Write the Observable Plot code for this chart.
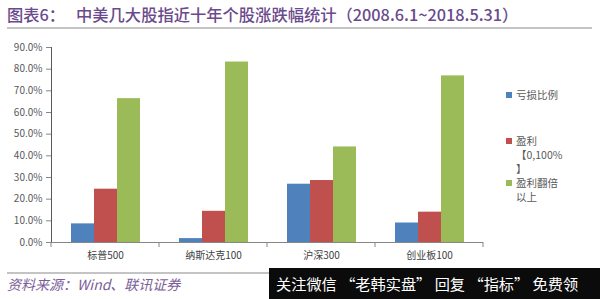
<!DOCTYPE html>
<html><head><meta charset="utf-8">
<script src="https://cdn.jsdelivr.net/npm/d3@7"></script>
<script src="https://cdn.jsdelivr.net/npm/@observablehq/plot@0.6"></script>
<style>
body{margin:0;background:#fff;}
#wrap{position:relative;width:600px;height:299px;overflow:hidden;font-family:"Noto Sans CJK SC","Noto Sans",sans-serif;background:#fff;}
#chart{position:absolute;left:0;top:0;}
.title{position:absolute;left:7px;top:4px;font-size:16.3px;line-height:20px;color:#6a4a8c;font-weight:500;white-space:nowrap;}
.title .t2{position:absolute;left:69px;top:0;}
.rule{position:absolute;left:7px;right:8px;height:2px;background:#c4c4c4;}
.source{position:absolute;left:7px;top:275px;font-size:14px;line-height:18px;color:#7b5e98;font-style:italic;white-space:nowrap;}
.legend{position:absolute;left:506px;font-size:10.5px;line-height:14px;color:#595959;}
.legend .sw{position:absolute;left:0;width:6px;height:6px;}
.legend .tx{position:absolute;left:10px;white-space:nowrap;}
.mark{position:absolute;left:269px;top:268px;width:331px;height:31px;background:#0b0b0b;color:#fff;font-size:15.2px;line-height:31px;white-space:nowrap;padding-left:7px;box-sizing:border-box;}
</style></head>
<body>
<div id="wrap">
  <div class="title"><span>图表6：</span><span class="t2">中美几大股指近十年个股涨跌幅统计（2008.6.1~2018.5.31）</span></div>
  <div class="rule" style="top:27px"></div>
  <div id="chart"></div>
  <div id="legend"></div>
  <div class="rule" style="top:272px"></div>
  <div class="source">资料来源：Wind、联讯证券</div>
  <div class="mark">关注微信 “老韩实盘” 回复 “指标” 免费领</div>
</div>
<script>
const categories = ["标普500", "纳斯达克100", "沪深300", "创业板100"];
const seriesNames = ["亏损比例", "盈利【0,100%】", "盈利翻倍以上"];
const legendLines = [["亏损比例"], ["盈利", "【0,100%", "】"], ["盈利翻倍", "以上"]];
const lossShare = [0.086, 0.018, 0.269, 0.090];
const gainShare = [0.246, 0.144, 0.286, 0.140];
const doubledShare = [0.664, 0.833, 0.441, 0.769];
const yTicks = [0, 0.1, 0.2, 0.3, 0.4, 0.5, 0.6, 0.7, 0.8, 0.9];
const colors = ["#4f81bd", "#c0504d", "#9bbb59"];

const seriesValues = [lossShare, gainShare, doubledShare];
const rows = [];
categories.forEach((c, i) => seriesNames.forEach((s, j) => rows.push({category: c, series: s, value: seriesValues[j][i]})));

const chart = Plot.plot({
  width: 600, height: 299,
  marginTop: 47, marginBottom: 57, marginLeft: 49, marginRight: 116,
  style: {fontFamily: '"Noto Sans CJK SC","Noto Sans",sans-serif', fontSize: "10px", color: "#595959", background: "transparent", overflow: "visible"},
  fx: {domain: categories, padding: 0, label: null, tickSize: 0, tickPadding: 9, axis: "bottom"},
  x: {domain: seriesNames, axis: null, paddingInner: 0, paddingOuter: 0.76},
  y: {domain: [0, 0.9], ticks: yTicks, tickFormat: d3.format(".1%"), label: null, tickSize: 5, tickPadding: 4, line: true},
  color: {domain: seriesNames, range: colors},
  marks: [
    Plot.barY(rows, {fx: "category", x: "series", y: "value", fill: "series"}),
    Plot.ruleY([0], {stroke: "#868686"})
  ]
});
document.getElementById("chart").appendChild(chart);

// style axes
const svg = d3.select(chart);
svg.selectAll("[aria-label='y-axis tick'] path, [aria-label='y-axis line'] line, [aria-label='y-axis tick'], [aria-label='y-axis line']").attr("stroke", "#868686");
svg.selectAll("[aria-label='fx-axis tick label'] text, [aria-label='fx-axis tick label']").attr("fill", "#404040");

// category boundary tick marks from the fx scale
const fx = chart.scale("fx");
const ys = chart.scale("y");
const y0 = ys.apply(0);
const bounds = categories.map(c => fx.apply(c)).concat([fx.apply(categories[categories.length - 1]) + fx.bandwidth]);
const g = svg.append("g").attr("stroke", "#868686");
bounds.forEach(b => g.append("line").attr("x1", b).attr("x2", b).attr("y1", y0).attr("y2", y0 + 5));

// legend
const legend = document.getElementById("legend");
const legendTop = [95, 141, 183];
seriesNames.forEach((s, j) => {
  const item = document.createElement("div");
  item.className = "legend";
  item.style.top = (legendTop[j] - 7) + "px";
  const sw = document.createElement("div");
  sw.className = "sw"; sw.style.background = colors[j]; sw.style.top = "4px";
  item.appendChild(sw);
  legendLines[j].forEach((ln, k) => {
    const t = document.createElement("div");
    t.className = "tx"; t.textContent = ln; t.style.top = (k * 14) + "px";
    item.appendChild(t);
  });
  legend.appendChild(item);
});
</script>
</body></html>
